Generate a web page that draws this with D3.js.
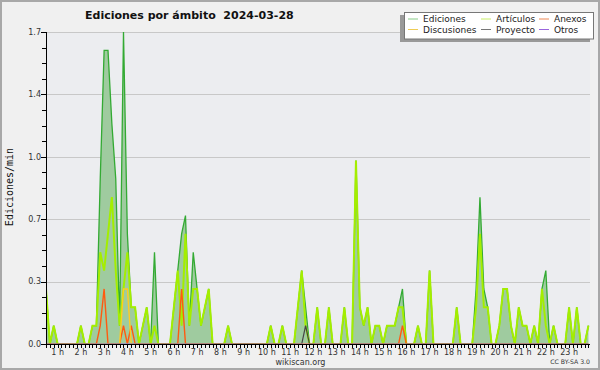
<!DOCTYPE html>
<html>
<head>
<meta charset="utf-8">
<script src="https://cdn.jsdelivr.net/npm/d3@7"></script>
<style>
body { margin: 0; background: #f0f0f0; }
svg { display: block; }
</style>
</head>
<body>
<div id="chart"></div>
<script>
// edits per minute, 10 minute buckets starting at 00:30
var startHour = 0.5;

var ediciones = [
  0.3,0,0.1,0,0,0,0,0,0,0.1,0,0,
  0.1,0.1,0.9,1.6,1.6,1.2,0.9,0.1,1.7,0.6,0.2,0.2,
  0,0.1,0.2,0,0.5,0,0,0,0,0.2,0.4,0.6,
  0.7,0.1,0.5,0.3,0.1,0.2,0.3,0,0,0,0,0.1,
  0,0,0,0,0,0,0,0,0,0,0.1,0,
  0,0.1,0,0,0,0.2,0.4,0.2,0,0,0.2,0,
  0,0.2,0,0,0,0.2,0,0,1.0,0.2,0.1,0.2,
  0,0.1,0.1,0,0.1,0.1,0.1,0.2,0.3,0,0,0,
  0.1,0,0,0.4,0,0,0,0,0,0,0.2,0,
  0,0,0,0.3,0.8,0.3,0.2,0,0,0.1,0.3,0.3,
  0.1,0,0.2,0.1,0.1,0,0.1,0,0.3,0.4,0,0.1,
  0,0,0,0.2,0,0.2,0,0,0.1
];
var articulos = [
  0.3,0,0.1,0,0,0,0,0,0,0.1,0,0,
  0.1,0.1,0.5,0.4,0.6,0.8,0.4,0.1,0.3,0.5,0.2,0.2,
  0,0.1,0.2,0,0.1,0,0,0,0,0.2,0.4,0.1,
  0.6,0.1,0.3,0.3,0.1,0.2,0.3,0,0,0,0,0.1,
  0,0,0,0,0,0,0,0,0,0,0.1,0,
  0,0.1,0,0,0,0.2,0.4,0.1,0,0,0.2,0,
  0,0.2,0,0,0,0.2,0,0,1.0,0.2,0.1,0.2,
  0,0.1,0.1,0,0.1,0.1,0.1,0.2,0.2,0,0,0,
  0.1,0,0,0.4,0,0,0,0,0,0,0.2,0,
  0,0,0,0.2,0.6,0.2,0.2,0,0,0.1,0.3,0.3,
  0.1,0,0.2,0.1,0.1,0,0.1,0,0.3,0.1,0,0.1,
  0,0,0,0.2,0,0.2,0,0,0.1
];
var anexos = [
  0,0,0,0,0,0,0,0,0,0,0,0,
  0,0,0.1,0.3,0,0,0,0,0.1,0,0.1,0,
  0,0,0,0,0,0,0,0,0,0,0,0.3,
  0,0,0,0,0,0,0,0,0,0,0,0,
  0,0,0,0,0,0,0,0,0,0,0,0,
  0,0,0,0,0,0,0,0,0,0,0,0,
  0,0,0,0,0,0,0,0,0,0,0,0,
  0,0,0,0,0,0,0,0,0.1,0,0,0,
  0,0,0,0,0,0,0,0,0,0,0,0,
  0,0,0,0,0,0,0,0,0,0,0,0,
  0,0,0,0,0,0,0,0,0,0,0,0,
  0,0,0,0,0,0,0,0,0
];
var discusiones = [
  0,0,0,0,0,0,0,0,0,0,0,0,
  0,0,0,0,0,0,0,0,0.3,0.3,0,0,
  0,0,0,0,0,0,0,0,0,0,0,0,
  0,0,0,0,0,0,0,0,0,0,0,0,
  0,0,0,0,0,0,0,0,0,0,0,0,
  0,0,0,0,0,0,0,0,0,0,0,0,
  0,0,0,0,0,0,0,0,0,0,0,0,
  0,0,0,0,0,0,0,0,0,0,0,0,
  0,0,0,0,0,0,0,0,0,0,0,0,
  0,0,0,0,0,0,0,0,0,0,0,0,
  0,0,0,0,0,0,0,0,0,0,0,0,
  0,0,0,0,0,0,0,0,0
];
var proyecto = [
  0,0,0,0,0,0,0,0,0,0,0,0,
  0,0,0,0,0,0,0,0,0,0,0,0,
  0,0,0,0,0,0,0,0,0,0,0,0,
  0,0,0,0,0,0,0,0,0,0,0,0,
  0,0,0,0,0,0,0,0,0,0,0,0,
  0,0,0,0,0,0,0,0.1,0,0,0,0,
  0,0,0,0,0,0,0,0,0,0,0,0,
  0,0,0,0,0,0,0,0,0,0,0,0,
  0,0,0,0,0,0,0,0,0,0,0,0,
  0,0,0,0,0,0,0,0,0,0,0,0,
  0,0,0,0,0,0,0,0,0,0,0,0,
  0,0,0,0,0,0,0,0,0
];
var otros = [
  0,0,0,0,0,0,0,0,0,0,0,0,
  0,0,0,0,0,0,0,0,0,0,0,0,
  0,0,0,0,0,0,0,0,0,0,0,0,
  0,0,0,0,0,0,0,0,0,0,0,0,
  0,0,0,0,0,0,0,0,0,0,0,0,
  0,0,0,0,0,0,0,0,0,0,0,0,
  0,0,0,0,0,0,0,0,0,0,0,0,
  0,0,0,0,0,0,0,0,0,0,0,0,
  0,0,0,0,0,0,0,0,0,0,0,0,
  0,0,0,0,0,0,0,0,0,0,0,0,
  0,0,0,0,0,0,0,0,0,0,0,0,
  0,0,0,0,0,0,0,0,0
];

var hourTicks = [1,2,3,4,5,6,7,8,9,10,11,12,13,14,15,16,17,18,19,20,21,22,23];
var yTicks = [0, 0.34, 0.68, 1.02, 1.36, 1.7];

var series = [
  { name: "Ediciones",   data: ediciones,   color: "#33aa33", legend: "#88cc88", width: 1.3 },
  { name: "Artículos",   data: articulos,   color: "#a4ee00", legend: "#c8ee66", width: 2 },
  { name: "Anexos",      data: anexos,      color: "#ff5a10", legend: "#ee8855", width: 1.4 },
  { name: "Discusiones", data: discusiones, color: "#ffcc22", legend: "#eecc55", width: 1.4 },
  { name: "Proyecto",    data: proyecto,    color: "#444444", legend: "#777777", width: 1.2 },
  { name: "Otros",       data: otros,       color: "#8844ee", legend: "#9966dd", width: 1.2 }
];

var W = 600, H = 370;
var plotL = 46, plotR = 590, plotT = 32, plotB = 344;

var svg = d3.select('#chart').append('svg')
    .attr('width', W)
    .attr('height', H)
    .style('font-family', 'DejaVu Sans');

svg.append('rect')
    .attr('x', 1).attr('y', 1).attr('width', W - 2).attr('height', H - 2)
    .attr('fill', '#f0f0f0').attr('stroke', '#a8a8a8').attr('stroke-width', 2);

var x = d3.scaleLinear().domain([startHour, 23.9]).range([plotL, plotR]);
var y = d3.scaleLinear().domain([0, 1.7]).range([plotB, plotT]);
var tx = (d, i) => x(startHour + i / 6);

// plot background + grid
svg.append('rect')
    .attr('x', plotL).attr('y', plotT).attr('width', plotR - plotL).attr('height', plotB - plotT)
    .attr('fill', '#ecedf0');

svg.append('g').selectAll('line')
    .data(yTicks.slice(1))
    .join('line')
    .attr('x1', plotL).attr('x2', plotR)
    .attr('y1', d => Math.round(y(d)) + 0.5).attr('y2', d => Math.round(y(d)) + 0.5)
    .attr('stroke', '#c8c8c8');

svg.append('clipPath').attr('id', 'clip')
    .append('rect').attr('x', plotL).attr('y', 0).attr('width', plotR - plotL).attr('height', plotB - 0.5);

var plot = svg.append('g').attr('clip-path', 'url(#clip)');

// filled area for total
plot.append('path')
    .datum(ediciones)
    .attr('fill', '#9fcb9f')
    .attr('d', d3.area().x(tx).y0(y(0)).y1(d => y(d)));

var line = d3.line().x(tx).y(d => y(d));

plot.selectAll('.serie')
    .data(series)
    .join('path')
    .attr('class', 'serie')
    .attr('fill', 'none')
    .attr('stroke', s => s.color)
    .attr('stroke-width', s => s.width)
    .attr('stroke-linejoin', 'miter')
    .attr('d', s => line(s.data));

// y axis
var yMinor = d3.range(0, 21).map(k => k * 0.085);
var yAxis = svg.append('g');
yAxis.append('line')
    .attr('x1', plotL + 0.5).attr('x2', plotL + 0.5).attr('y1', plotT).attr('y2', plotB)
    .attr('stroke', '#000');
yAxis.selectAll('.minor')
    .data(yMinor)
    .join('line')
    .attr('class', 'minor')
    .attr('x1', plotL - 4).attr('x2', plotL)
    .attr('y1', d => Math.round(y(d)) + 0.5).attr('y2', d => Math.round(y(d)) + 0.5)
    .attr('stroke', '#000');
yAxis.selectAll('.major')
    .data(yTicks)
    .join('line')
    .attr('class', 'major')
    .attr('x1', plotL - 5).attr('x2', plotL)
    .attr('y1', d => Math.round(y(d)) + 0.5).attr('y2', d => Math.round(y(d)) + 0.5)
    .attr('stroke', '#000');
yAxis.selectAll('text')
    .data(yTicks)
    .join('text')
    .attr('x', 41).attr('y', d => y(d))
    .attr('dy', '0.35em')
    .attr('text-anchor', 'end')
    .attr('font-size', 8)
    .attr('fill', '#333')
    .text(d => d.toFixed(1));

svg.append('text')
    .attr('transform', 'translate(13,187) rotate(-90)')
    .attr('text-anchor', 'middle')
    .attr('font-family', 'DejaVu Sans Mono')
    .attr('font-size', 10)
    .attr('fill', '#111')
    .text('Ediciones/min');

// x axis
var xTicks = d3.range(0, 141).map(i => startHour + i / 6);
var xAxis = svg.append('g');
xAxis.append('line')
    .attr('x1', plotL).attr('x2', plotR).attr('y1', plotB + 0.5).attr('y2', plotB + 0.5)
    .attr('stroke', '#000');
xAxis.selectAll('.tick')
    .data(xTicks)
    .join('line')
    .attr('class', 'tick')
    .attr('x1', d => Math.round(x(d)) + 0.5).attr('x2', d => Math.round(x(d)) + 0.5)
    .attr('y1', plotB).attr('y2', plotB + 4)
    .attr('stroke', '#000');
xAxis.selectAll('text')
    .data(hourTicks)
    .join('text')
    .attr('x', d => x(d)).attr('y', plotB + 11)
    .attr('text-anchor', 'middle')
    .attr('font-size', 8)
    .attr('fill', '#333')
    .text(d => d + ' h');

// title & credits
svg.append('text')
    .attr('x', 85).attr('y', 18.5)
    .attr('font-size', 11).attr('font-weight', 'bold')
    .attr('fill', '#111')
    .style('white-space', 'pre')
    .text('Ediciones por ámbito  2024-03-28');

svg.append('text')
    .attr('x', 300.5).attr('y', 364.5)
    .attr('text-anchor', 'middle')
    .attr('font-size', 8).attr('fill', '#333')
    .text('wikiscan.org');

svg.append('text')
    .attr('x', 590).attr('y', 364)
    .attr('text-anchor', 'end')
    .attr('font-size', 6.2).attr('fill', '#333')
    .text('CC BY-SA 3.0');

// legend
var legend = svg.append('g');
legend.append('rect')
    .attr('x', 400).attr('y', 15).attr('width', 190).attr('height', 27)
    .attr('fill', '#999');
legend.append('rect')
    .attr('x', 404.5).attr('y', 12.5).attr('width', 189).attr('height', 26.5)
    .attr('fill', '#fff').attr('stroke', '#777');

var colX = [408, 481, 539];
var rowY = [19, 29.5];
var items = legend.selectAll('.item')
    .data(series)
    .join('g')
    .attr('class', 'item')
    .attr('transform', (s, k) => 'translate(' + colX[k % 3] + ',' + rowY[Math.floor(k / 3)] + ')');
items.append('line')
    .attr('x1', 0).attr('x2', 10).attr('y1', 0).attr('y2', 0)
    .attr('stroke', s => s.legend).attr('stroke-width', 1);
items.append('text')
    .attr('x', 15).attr('y', 0).attr('dy', '0.35em')
    .attr('font-size', 9).attr('fill', '#222')
    .text(s => s.name);
</script>
</body>
</html>
